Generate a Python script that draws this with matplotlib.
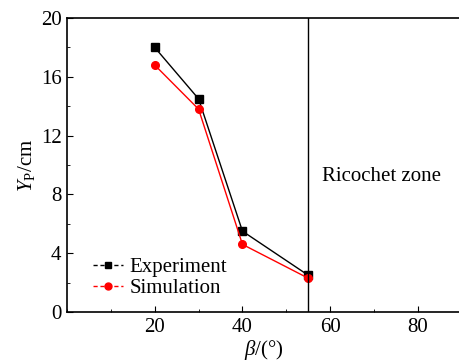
import matplotlib
matplotlib.use('Agg')
import matplotlib.pyplot as plt
from matplotlib.ticker import MultipleLocator

plt.rcParams['font.family'] = ['Liberation Serif', 'DejaVu Serif']
plt.rcParams['mathtext.fontset'] = 'custom'
plt.rcParams['mathtext.rm'] = 'Liberation Serif'
plt.rcParams['mathtext.it'] = 'Liberation Serif:italic'

# data
beta = [20, 30, 40, 55]
experiment = [18.0, 14.5, 5.5, 2.5]
simulation = [16.8, 13.8, 4.6, 2.3]
ricochet_start = 55
x_ticks = [20, 40, 60, 80]
y_ticks = [0, 4, 8, 12, 16, 20]

fig = plt.figure(figsize=(4.6, 3.61), dpi=100)
ax = fig.add_axes([0.1457, 0.1357, 0.8543, 0.8143])

ax.plot(beta, experiment, color='black', marker='s', markersize=5.5, linewidth=1.0, label='Experiment')
ax.plot(beta, simulation, color='red', marker='o', markersize=5.5, linewidth=1.0, label='Simulation')
ax.axvline(ricochet_start, color='black', linewidth=1.0)
ax.text(58.2, 9.25, 'Ricochet zone', fontsize=15, va='center', ha='left')

ax.set_xlim(0, 89.6)
ax.set_ylim(0, 20)
ax.set_xticks(x_ticks)
ax.set_yticks(y_ticks)
ax.xaxis.set_minor_locator(MultipleLocator(10))
ax.yaxis.set_minor_locator(MultipleLocator(2))
ax.tick_params(which='both', direction='in', labelsize=15)
ax.tick_params(which='major', length=4, pad=4)
ax.tick_params(which='minor', length=2)
ax.spines['right'].set_visible(False)
for s in ['top', 'left', 'bottom']:
    ax.spines[s].set_linewidth(1.2)

ax.set_xlabel(r'$\beta$/(°)', fontsize=15, labelpad=1)
ax.set_ylabel(r'$Y_{\mathrm{P}}$/cm', fontsize=15, labelpad=3)

leg = ax.legend(loc='lower left', bbox_to_anchor=(0.045, 0.02), frameon=False, fontsize=15,
                handlelength=1.45, handletextpad=0.3, labelspacing=0.05, borderaxespad=0)
for h in leg.legend_handles:
    h.set_linestyle((0, (3, 2)))
    h.set_markersize(5)

fig.savefig('out.png', dpi=100)
